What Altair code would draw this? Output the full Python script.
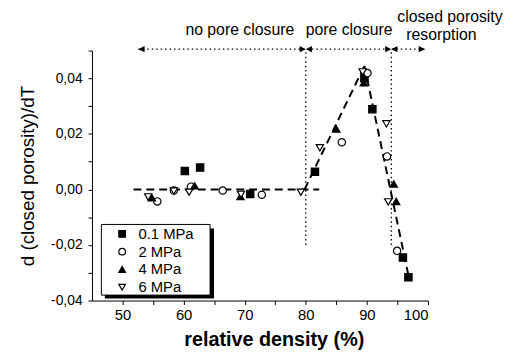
import altair as alt
import pandas as pd

# ---- data ----
series_names = ["0.1 MPa", "2 MPa", "4 MPa", "6 MPa"]

s01_x = [60.2, 62.7, 70.9, 81.5, 89.6, 90.9, 95.9, 96.8]
s01_y = [0.0066, 0.0079, -0.0016, 0.0064, 0.0400, 0.0289, -0.0245, -0.0316]

s2_x = [55.7, 58.4, 61.2, 66.4, 72.8, 85.9, 90.1, 93.3, 94.95]
s2_y = [-0.0043, -0.0004, 0.0010, -0.0004, -0.0019, 0.0170, 0.0419, 0.0119, -0.0221]

s4_x = [54.8, 61.8, 69.3, 85.0, 89.5, 94.4, 94.8]
s4_y = [-0.0030, 0.0013, -0.0025, 0.0218, 0.0384, 0.0020, -0.0043]

s6_x = [54.2, 58.4, 60.9, 69.4, 79.2, 82.3, 89.3, 93.2, 93.5]
s6_y = [-0.0027, -0.0006, -0.0010, -0.0018, -0.0010, 0.0150, 0.0423, 0.0236, -0.0045]

# dashed guide lines (three segments)
fit_seg = ["a", "a", "b", "b", "c", "c"]
fit_x = [51.8, 82.2, 79.8, 89.6, 89.6, 97.0]
fit_y = [0.0, 0.0, 0.0, 0.0445, 0.0445, -0.033]

# regime boundaries and arrows
bound_x = [80.0, 94.0]
bound_y_low = -0.02
arrow_y = 0.0505
arrow_x_start = 52.6
arrow_x_end = 99.5

region_labels = ["no pore closure", "pore closure", "closed porosity", "resorption"]
region_label_x = [69.2, 87.1, 103.6, 102.2]
region_label_y = [0.0557, 0.0557, 0.0603, 0.0537]

x_ticks = [50, 55, 60, 65, 70, 75, 80, 85, 90, 95, 100]
y_ticks = [-0.04, -0.03, -0.02, -0.01, 0.0, 0.01, 0.02, 0.03, 0.04, 0.05]

# ---- tables ----
rows = []
for name, xs, ys in zip(series_names, [s01_x, s2_x, s4_x, s6_x], [s01_y, s2_y, s4_y, s6_y]):
    for xv, yv in zip(xs, ys):
        rows.append({"density": xv, "dcp": yv, "series": name})
pts = pd.DataFrame(rows)

fit = pd.DataFrame({"density": fit_x, "dcp": fit_y, "seg": fit_seg})
bounds = pd.DataFrame({"density": bound_x, "y1": [bound_y_low] * len(bound_x), "y2": [arrow_y] * len(bound_x)})
arrow = pd.DataFrame({"x1": [arrow_x_start], "x2": [arrow_x_end], "dcp": [arrow_y]})
heads_left = pd.DataFrame({"density": [arrow_x_start] + bound_x, "dcp": [arrow_y] * 3})
heads_right = pd.DataFrame({"density": bound_x + [arrow_x_end], "dcp": [arrow_y] * 3})
labels = pd.DataFrame({"density": region_label_x, "dcp": region_label_y, "text": region_labels})

FONT = "Liberation Sans"

xscale = alt.Scale(domain=[45, 100], nice=False, zero=False)
yscale = alt.Scale(domain=[-0.04, 0.05], nice=False, zero=False)

xaxis = alt.Axis(
    values=x_ticks,
    labelExpr="datum.value % 10 == 0 ? format(datum.value, 'd') : ''",
    title="relative density (%)",
    titleFontWeight="bold",
    titleFontSize=20,
    titlePadding=8,
    labelFontSize=15,
    tickSize=4,
    labelPadding=3,
    grid=False,
)
yaxis = alt.Axis(
    values=y_ticks,
    labelExpr="abs(round(datum.value*100)) % 2 == 0 ? replace(replace(format(datum.value, '.2f'), '.', ','), '\u2212', '-') : ''",
    title="d (closed porosity)/dT",
    titleFontWeight="normal",
    titleFontSize=19,
    titlePadding=13,
    labelFontSize=14,
    tickSize=4,
    labelPadding=6,
    grid=False,
)

X = alt.X("density:Q", scale=xscale, axis=xaxis)
Y = alt.Y("dcp:Q", scale=yscale, axis=yaxis)

fit_layer = alt.Chart(fit).mark_line(color="black", strokeWidth=2, strokeDash=[8, 5], clip=False).encode(
    x=X, y=Y, detail="seg:N"
)

bound_layer = alt.Chart(bounds).mark_rule(color="black", strokeWidth=1.3, strokeDash=[1.5, 3], clip=False).encode(
    x=X, y=alt.Y("y1:Q", scale=yscale, axis=yaxis), y2="y2:Q"
)

arrow_layer = alt.Chart(arrow).mark_rule(color="black", strokeWidth=1.3, strokeDash=[1.5, 3], clip=False).encode(
    x=alt.X("x1:Q", scale=xscale, axis=xaxis), x2="x2:Q", y=Y
)

LEFT_HEAD = "M0,0 L1.6,-0.8 L1.6,0.8 Z"
RIGHT_HEAD = "M0,0 L-1.6,-0.8 L-1.6,0.8 Z"
hl = alt.Chart(heads_left).mark_point(filled=True, color="black", opacity=1, size=60, clip=False).encode(
    x=X, y=Y, shape=alt.value(LEFT_HEAD)
)
hr = alt.Chart(heads_right).mark_point(filled=True, color="black", opacity=1, size=60, clip=False).encode(
    x=X, y=Y, shape=alt.value(RIGHT_HEAD)
)

text_layer = alt.Chart(labels).mark_text(font=FONT, fontSize=16, color="black", baseline="alphabetic", clip=False).encode(
    x=X, y=Y, text="text:N"
)

# legend frame and its shadow (decoration, pixel positions inside the plot area)
one = pd.DataFrame({"k": [0]})
shadow = alt.Chart(one).mark_rect(color="black").encode(
    x=alt.value(13), x2=alt.value(123.5), y=alt.value(180), y2=alt.value(251)
)
frame = alt.Chart(one).mark_rect(fill="white", stroke="black", strokeWidth=1).encode(
    x=alt.value(9.5), x2=alt.value(119.5), y=alt.value(176), y2=alt.value(247.5)
)

point_layer = alt.Chart(pts).mark_point(filled=True, strokeWidth=1.2, size=55, opacity=1, clip=False).encode(
    x=X,
    y=Y,
    shape=alt.Shape("series:N", scale=alt.Scale(domain=series_names, range=["square", "circle", "triangle-up", "triangle-down"]),
                    legend=alt.Legend(title=None)),
    fill=alt.Fill("series:N", scale=alt.Scale(domain=series_names, range=["black", "white", "black", "white"]),
                  legend=alt.Legend(title=None)),
    stroke=alt.Stroke("series:N", scale=alt.Scale(domain=series_names, range=["black", "black", "black", "black"]),
                      legend=alt.Legend(title=None)),
)

chart = alt.layer(
    shadow, frame, fit_layer, bound_layer, arrow_layer, hl, hr, text_layer, point_layer
).properties(
    width=340,
    height=253,
    padding={"left": 85, "top": 41, "right": 80, "bottom": 50},
    autosize=alt.AutoSizeParams(type="none"),
).configure_view(
    stroke=None
).configure_axis(
    labelFont=FONT, titleFont=FONT, labelColor="black", titleColor="black",
    domainColor="black", tickColor="black", domainWidth=1, tickWidth=1,
).configure_axisX(
    titleX=184
).configure_legend(
    orient="none", legendX=9, legendY=176,
    padding=2,
    labelFont=FONT, labelFontSize=15, labelColor="black",
    symbolSize=45, symbolStrokeWidth=1.2,
    rowPadding=2, labelOffset=9, symbolOffset=12,
)

chart.save("out.html", embed_options={"renderer": "svg", "actions": False})
